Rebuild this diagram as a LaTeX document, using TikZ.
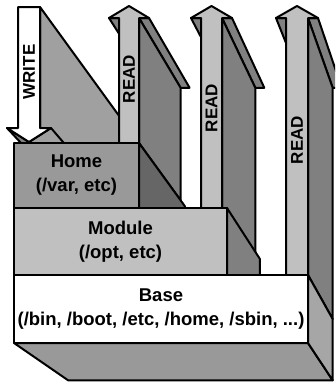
\documentclass[tikz,border=0pt]{standalone}
\usepackage{fontspec}
\setmainfont{Liberation Sans}
\usetikzlibrary{calc}
\definecolor{lg}{HTML}{C0C0C0}
\definecolor{mg}{HTML}{808080}
\definecolor{wg}{HTML}{A0A0A0}
\definecolor{hg}{HTML}{999999}
\definecolor{hs}{HTML}{666666}
\definecolor{bb}{HTML}{999999}
\definecolor{br}{HTML}{A6A6A6}
\newcommand\extface[4]{\filldraw[fill=#1] (#2) -- (#3) -- ($(#3)!#4!(V)$) -- ($(#2)!#4!(V)$) -- cycle;}
\newcommand\readarrow[5]{%
 \coordinate (#1A) at (#2,#4); \coordinate (#1B) at (#2,18); \coordinate (#1C) at ({#2-10},18);
 \coordinate (#1T) at ({(#2+#3)/2},6); \coordinate (#1D) at ({#3+10},18); \coordinate (#1E) at (#3,18);
 \coordinate (#1F) at (#3,#4);
 \extface{mg}{#1C}{#1B}{0.1}
 \extface{mg}{#1E}{#1D}{0.1}
 \extface{mg}{#1E}{#1F}{0.1}
 \filldraw[fill=lg] (#1A)--(#1B)--(#1C)--(#1T)--(#1D)--(#1E)--(#1F)--cycle;
 \node[albl] (#1l) at ({(#2+#3)/2},#5) {READ};}
\begin{document}
\begin{tikzpicture}[x=1pt,y=-1pt,line width=2pt,line join=round,
  lbl/.style={font=\fontsize{18.5}{24}\selectfont\bfseries,align=center,inner sep=0pt},
  albl/.style={font=\fontsize{17}{20}\selectfont\bfseries,rotate=90,inner sep=0pt}]
\path[use as bounding box] (0,0) rectangle (335,383);
\clip (0,0) rectangle (335,383);
\coordinate (V) at (555,716);
% WRITE arrow
\coordinate (wA) at (18,7); \coordinate (wB) at (40,7); \coordinate (wC) at (40,128);
\coordinate (wD) at (51,128); \coordinate (wT) at (29,142); \coordinate (wE) at (7,128);
\coordinate (wF) at (18,128);
\extface{wg}{wB}{wC}{0.25}
\extface{wg}{wD}{wT}{0.25}
\extface{mg}{wT}{wE}{0.25}
\filldraw[fill=white] (wA)--(wB)--(wC)--(wD)--(wT)--(wE)--(wF)--cycle;
\node[albl] (write) at (29,72) {WRITE};
% READ arrows
\readarrow{ra}{119}{139}{143}{79}
\readarrow{rb}{201}{222}{208}{108}
\readarrow{rc}{286}{308}{275}{140}
% Home layer
\coordinate (h1) at (14,143); \coordinate (h2) at (139,143); \coordinate (h3) at (139,208); \coordinate (h4) at (14,208);
\extface{hs}{h2}{h3}{0.11}
\filldraw[fill=hg] (h1) rectangle (h3);
\node[lbl] (home) at (76.5,175.5) {Home\\(/var, etc)};
% Module layer
\coordinate (m1) at (14,208); \coordinate (m2) at (227,208); \coordinate (m3) at (227,275);
\extface{mg}{m2}{m3}{0.1}
\filldraw[fill=lg] (m1) rectangle (m3);
\node[lbl] (module) at (120.5,241.5) {Module\\(/opt, etc)};
% Base layer
\coordinate (b1) at (14,275); \coordinate (b2) at (308,275); \coordinate (b3) at (308,343); \coordinate (b4) at (14,343);
\extface{bb}{b4}{b3}{0.1}
\extface{br}{b2}{b3}{0.1}
\filldraw[fill=white] (b1) rectangle (b3);
\node[lbl] (base) at (161,309) {Base\\(/bin, /boot, /etc, /home, /sbin, ...)};
\end{tikzpicture}
\end{document}
